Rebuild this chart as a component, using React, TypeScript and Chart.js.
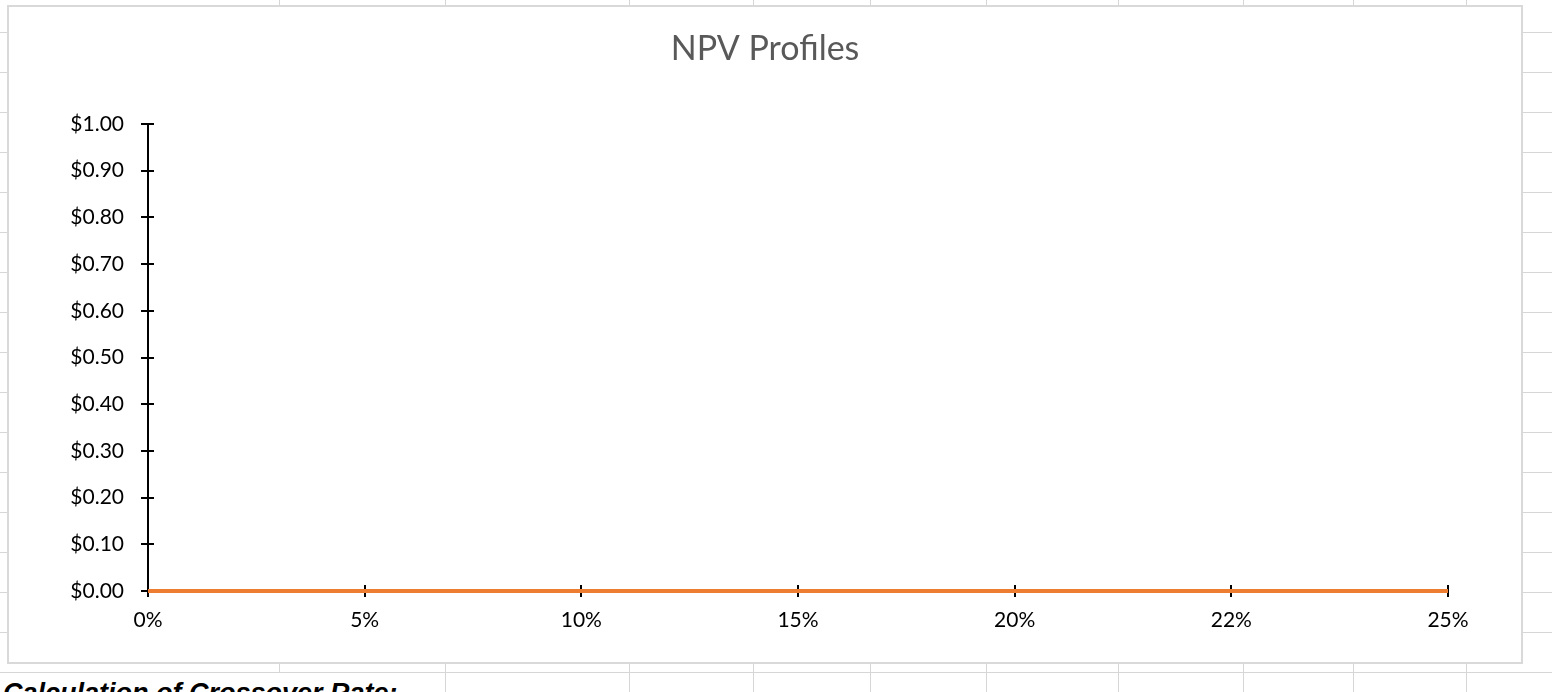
import React, { useEffect, useRef } from 'react';
import { Chart, registerables } from 'chart.js';

Chart.register(...registerables);

// ---- data ----
const rateLabels = ['0%', '5%', '10%', '15%', '20%', '22%', '25%'];
const npvProjectA = [0, 0, 0, 0, 0, 0, 0];
const npvProjectB = [0, 0, 0, 0, 0, 0, 0];
const yMin = 0;
const yMax = 1;
const yStep = 0.1;
const chartTitle = 'NPV Profiles';
const sheetNote = 'Calculation of Crossover Rate:';

// ---- layout (spreadsheet backdrop) ----
const ROW_LINES = Array.from({ length: 17 }, (_, k) => 32 + 40 * k);
const COL_LINES = [279, 445, 629, 753, 870, 986, 1118, 1243, 1353, 1466];
const GRID_COLOR = '#d6d6d6';

const crossTicks = {
  id: 'crossTicks',
  beforeDatasetsDraw(chart: any) {
    const { ctx, chartArea, scales } = chart;
    const x = scales.x;
    const y = scales.y;
    ctx.save();
    ctx.strokeStyle = '#000';
    ctx.lineWidth = 2;
    ctx.beginPath();
    y.ticks.forEach((_: any, i: number) => {
      const py = Math.round(y.getPixelForTick(i));
      ctx.moveTo(chartArea.left - 7, py);
      ctx.lineTo(chartArea.left + 6, py);
    });
    x.ticks.forEach((_: any, i: number) => {
      const px = Math.round(x.getPixelForTick(i));
      ctx.moveTo(px, chartArea.bottom - 6);
      ctx.lineTo(px, chartArea.bottom + 6);
    });
    ctx.stroke();
    ctx.restore();
  },
};

export default function App() {
  const ref = useRef<HTMLCanvasElement>(null);

  useEffect(() => {
    document.body.style.margin = '0';
    const tickFont = { family: 'Lato, "Open Sans", sans-serif', size: 21 };
    const chart = new Chart(ref.current as HTMLCanvasElement, {
      type: 'line',
      data: {
        labels: rateLabels,
        datasets: [
          {
            label: 'Project B',
            data: npvProjectB,
            borderColor: '#ED7D31',
            backgroundColor: '#ED7D31',
            borderWidth: 4,
            pointRadius: 0,
            tension: 0,
            clip: false,
            order: 0,
          },
          {
            label: 'Project A',
            data: npvProjectA,
            borderColor: '#4472C4',
            backgroundColor: '#4472C4',
            borderWidth: 4,
            pointRadius: 0,
            tension: 0,
            clip: false,
            order: 1,
          },
        ],
      },
      options: {
        responsive: false,
        animation: false,
        devicePixelRatio: 1,
        layout: { padding: { left: 0, right: 0, top: 0, bottom: 0 } },
        plugins: {
          legend: { display: false },
          tooltip: { enabled: false },
          title: {
            display: true,
            text: chartTitle,
            color: '#595959',
            font: { family: 'Lato, "Open Sans", sans-serif', size: 34, weight: 'normal' },
            padding: { top: 22, bottom: 54.2 },
          },
        },
        scales: {
          x: {
            type: 'category',
            offset: false,
            grid: { display: true, drawOnChartArea: false, drawTicks: false, color: 'rgba(0,0,0,0)' },
            border: { display: true, color: '#000', width: 2 },
            ticks: { color: '#000', font: tickFont, padding: 17, maxRotation: 0, autoSkip: false },
            afterFit: (s: any) => {
              s.height = 71;
              s.paddingRight = 73;
            },
          },
          y: {
            min: yMin,
            max: yMax,
            grid: { display: true, drawOnChartArea: false, drawTicks: false, color: 'rgba(0,0,0,0)' },
            border: { display: true, color: '#000', width: 2 },
            ticks: {
              stepSize: yStep,
              color: '#000',
              font: tickFont,
              padding: 24,
              callback: (v: any) => '$' + Number(v).toFixed(2),
            },
            afterFit: (s: any) => {
              s.width = 139;
            },
          },
        },
      },
      plugins: [crossTicks],
    } as any);
    return () => chart.destroy();
  }, []);

  return (
    <div
      style={{
        position: 'absolute',
        left: 0,
        top: 0,
        width: 1552,
        height: 692,
        overflow: 'hidden',
        background: '#fff',
      }}
    >
      {ROW_LINES.map((y) => (
        <div
          key={'r' + y}
          style={{ position: 'absolute', left: 0, top: y, width: 1552, height: 1, background: GRID_COLOR }}
        />
      ))}
      {COL_LINES.map((x) => (
        <div
          key={'c' + x}
          style={{ position: 'absolute', left: x, top: 0, width: 1, height: 692, background: GRID_COLOR }}
        />
      ))}
      <div style={{ position: 'absolute', left: 0, top: 673, width: 444, height: 19, background: '#fff' }} />
      <div
        style={{
          position: 'absolute',
          left: 3,
          top: 680,
          font: 'italic bold 27px "Liberation Sans", Arial, sans-serif',
          lineHeight: '27px',
          whiteSpace: 'nowrap',
          color: '#000',
        }}
      >
        {sheetNote}
      </div>
      <div
        style={{
          position: 'absolute',
          left: 7,
          top: 5,
          width: 1516,
          height: 659,
          boxSizing: 'border-box',
          border: '2px solid #d9d9d9',
          background: '#fff',
        }}
      >
        <canvas ref={ref} width={1512} height={655} style={{ display: 'block', width: 1512, height: 655 }} />
      </div>
    </div>
  );
}
